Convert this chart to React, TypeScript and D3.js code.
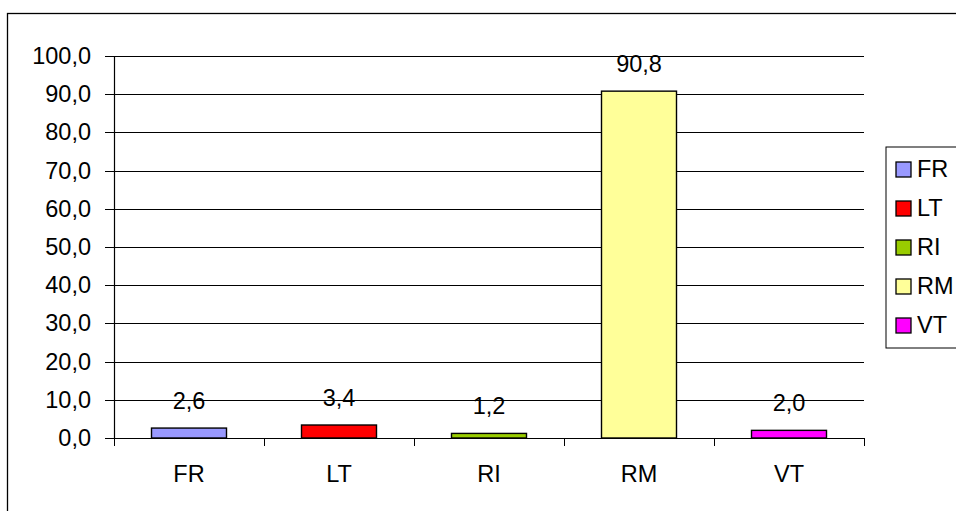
import React from "react";
import * as d3 from "d3";

const categories = ["FR", "LT", "RI", "RM", "VT"];
const values = [2.6, 3.4, 1.2, 90.8, 2.0];
const colors = ["#9999FF", "#FF0000", "#99CC00", "#FFFF99", "#FF00FF"];
const yTicks = [0, 10, 20, 30, 40, 50, 60, 70, 80, 90, 100];

const W = 956;
const H = 511;
const plot = { left: 114, right: 864, top: 56, bottom: 438 };
const FONT = "Arial, 'Liberation Sans', sans-serif";
const FS = 23.5;

const fmt = (v: number) => v.toFixed(1).replace(".", ",");
const crisp = (v: number) => Math.round(v) + 0.5;

export default function App() {
  const x = d3.scaleBand<string>().domain(categories).range([plot.left, plot.right]).paddingInner(0.5).paddingOuter(0.25);
  const xb = d3.scaleBand<string>().domain(categories).range([plot.left, plot.right]);
  const y = d3.scaleLinear().domain([0, 100]).range([plot.bottom, plot.top]);

  const boundaries = [plot.left, ...categories.map((c) => (xb(c) as number) + xb.bandwidth())];

  return (
    <svg width={W} height={H} style={{ position: "absolute", left: 0, top: 0, background: "#fff" }} fontFamily={FONT}>
      <rect x={7.5} y={13.5} width={1000} height={600} fill="#fff" stroke="#000" strokeWidth={1.3} />
      {/* gridlines + y ticks */}
      {yTicks.map((t) => (
        <g key={t}>
          <line x1={plot.left - 9} x2={t === 0 ? plot.left : plot.right} y1={crisp(y(t))} y2={crisp(y(t))} stroke="#000" strokeWidth={1} />
          <text x={91} y={y(t) + 8} textAnchor="end" fontSize={FS} fill="#000">{fmt(t)}</text>
        </g>
      ))}
      {/* bars */}
      {categories.map((c, i) => (
        <rect key={c} x={x(c)} y={y(values[i])} width={x.bandwidth()} height={plot.bottom - y(values[i])}
          fill={colors[i]} stroke="#000" strokeWidth={1.4} />
      ))}
      {/* value labels */}
      {categories.map((c, i) => (
        <text key={c} x={(x(c) as number) + x.bandwidth() / 2} y={y(values[i]) - 19} textAnchor="middle" fontSize={FS} fill="#000">
          {fmt(values[i])}
        </text>
      ))}
      {/* axes */}
      <line x1={crisp(plot.left)} x2={crisp(plot.left)} y1={plot.top} y2={plot.bottom} stroke="#000" strokeWidth={1.2} />
      <line x1={plot.left} x2={plot.right} y1={crisp(plot.bottom)} y2={crisp(plot.bottom)} stroke="#000" strokeWidth={1.2} />
      {boundaries.map((b, i) => (
        <line key={i} x1={crisp(b)} x2={crisp(b)} y1={plot.bottom} y2={plot.bottom + 8} stroke="#000" strokeWidth={1} />
      ))}
      {categories.map((c) => (
        <text key={c} x={(xb(c) as number) + xb.bandwidth() / 2} y={482} textAnchor="middle" fontSize={FS} fill="#000">{c}</text>
      ))}
      {/* legend */}
      <rect x={886} y={147} width={100} height={201} fill="#fff" stroke="#000" strokeWidth={1} />
      {categories.map((c, i) => (
        <g key={c} transform={`translate(0, ${169 + i * 39})`}>
          <rect x={896} y={-7} width={15} height={15} fill={colors[i]} stroke="#000" strokeWidth={1.3} />
          <text x={917} y={8} fontSize={FS} fill="#000">{c}</text>
        </g>
      ))}
    </svg>
  );
}
